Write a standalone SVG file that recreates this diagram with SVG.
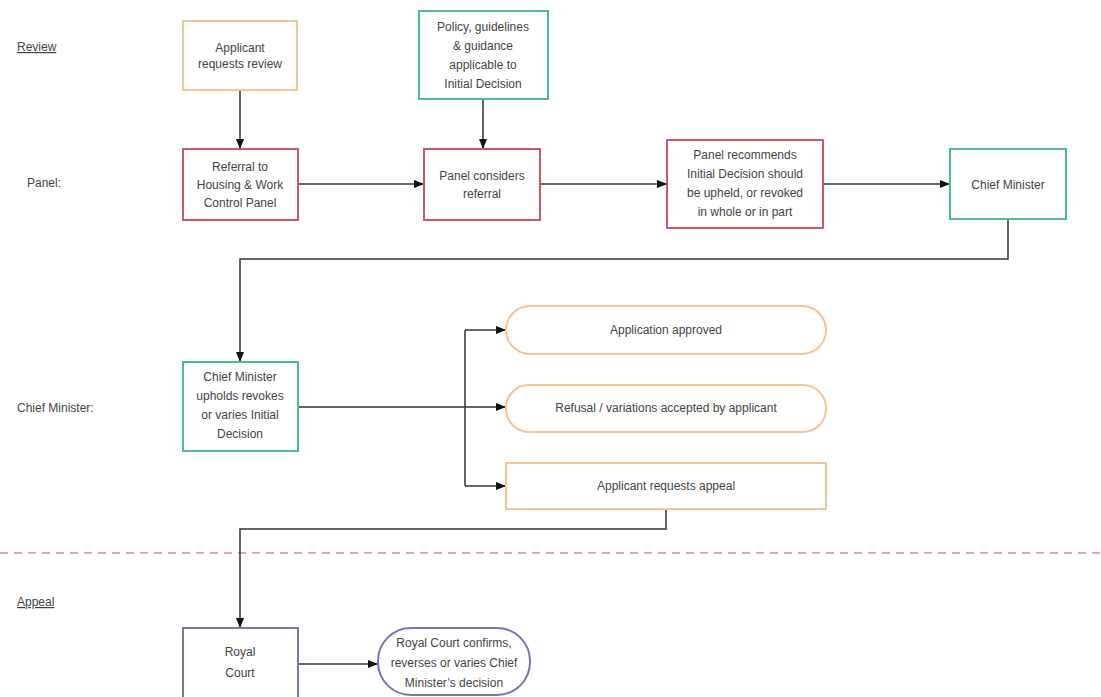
<svg xmlns="http://www.w3.org/2000/svg" width="1101" height="697" viewBox="0 0 1101 697">
<defs>
<marker id="ah" markerWidth="10" markerHeight="8" refX="9" refY="4" orient="auto" markerUnits="userSpaceOnUse">
<path d="M0,0 L10,4 L0,8 z" fill="#111"/>
</marker>
<style>
text{font-family:"Liberation Sans",Arial,sans-serif;font-size:12px;fill:#444;text-anchor:middle}
.lbl{text-anchor:start}
.u{text-decoration:underline}
.box{fill:#fff;stroke-width:2}
.or{stroke:#f5c29a}
.rd{stroke:#d0576a}
.gr{stroke:#4dbb93}
.pu{stroke:#8270b0}
.c{fill:none;stroke:#333;stroke-width:1.5}
</style>
</defs>
<rect width="1101" height="697" fill="#fff"/>
<g id="labels">
<text class="lbl u" x="17" y="51">Review</text>
<text class="lbl" x="27" y="187">Panel:</text>
<text class="lbl" x="17" y="412">Chief Minister:</text>
<text class="lbl u" x="17" y="606">Appeal</text>
</g>
<line id="divider" x1="0" y1="553" x2="1101" y2="553" stroke="#e08888" stroke-width="1.5" stroke-dasharray="8,6"/>
<g id="connectors">
<path class="c" d="M240,90 V148" marker-end="url(#ah)"/>
<path class="c" d="M483,99 V148" marker-end="url(#ah)"/>
<path class="c" d="M298,184 H423" marker-end="url(#ah)"/>
<path class="c" d="M540,184 H666" marker-end="url(#ah)"/>
<path class="c" d="M823,184 H949" marker-end="url(#ah)"/>
<path class="c" d="M1008,219 V259 H240 V361" marker-end="url(#ah)"/>
<path class="c" d="M298,407 H505" marker-end="url(#ah)"/>
<path class="c" d="M465,330 V486"/>
<path class="c" d="M465,330 H505" marker-end="url(#ah)"/>
<path class="c" d="M465,486 H505" marker-end="url(#ah)"/>
<path class="c" d="M666,509 V529 H240 V627" marker-end="url(#ah)"/>
<path class="c" d="M298,664 H377" marker-end="url(#ah)"/>
</g>
<g id="applicant-review">
<rect class="box or" x="183" y="21" width="114" height="69"/>
<text x="240" y="52">Applicant</text>
<text x="240" y="68">requests review</text>
</g>
<g id="policy">
<rect class="box gr" x="419" y="11" width="129" height="88"/>
<text x="483" y="31">Policy, guidelines</text>
<text x="483" y="50">&amp; guidance</text>
<text x="483" y="69">applicable to</text>
<text x="483" y="88">Initial Decision</text>
</g>
<g id="referral">
<rect class="box rd" x="183" y="149" width="115" height="71"/>
<text x="240" y="171">Referral to</text>
<text x="240" y="189">Housing &amp; Work</text>
<text x="240" y="207">Control Panel</text>
</g>
<g id="panel-considers">
<rect class="box rd" x="424" y="149" width="116" height="71"/>
<text x="482" y="180">Panel considers</text>
<text x="482" y="198">referral</text>
</g>
<g id="panel-recommends">
<rect class="box rd" x="667" y="140" width="156" height="88"/>
<text x="745" y="159">Panel recommends</text>
<text x="745" y="178">Initial Decision should</text>
<text x="745" y="197">be upheld, or revoked</text>
<text x="745" y="216">in whole or in part</text>
</g>
<g id="chief-minister">
<rect class="box gr" x="950" y="149" width="116" height="70"/>
<text x="1008" y="189">Chief Minister</text>
</g>
<g id="cm-upholds">
<rect class="box gr" x="183" y="362" width="115" height="89"/>
<text x="240" y="381">Chief Minister</text>
<text x="240" y="400">upholds revokes</text>
<text x="240" y="419">or varies Initial</text>
<text x="240" y="438">Decision</text>
</g>
<g id="approved">
<rect class="box or" x="506" y="306" width="320" height="48" rx="24"/>
<text x="666" y="334">Application approved</text>
</g>
<g id="refusal">
<rect class="box or" x="506" y="385" width="320" height="47" rx="23"/>
<text x="666" y="412">Refusal / variations accepted by applicant</text>
</g>
<g id="appeal">
<rect class="box or" x="506" y="463" width="320" height="46"/>
<text x="666" y="490">Applicant requests appeal</text>
</g>
<g id="royal-court">
<rect class="box pu" x="183" y="628" width="115" height="80"/>
<text x="240" y="656">Royal</text>
<text x="240" y="677">Court</text>
</g>
<g id="royal-decision">
<rect class="box pu" x="378" y="628" width="152" height="67" rx="33"/>
<text x="454" y="647">Royal Court confirms,</text>
<text x="454" y="667">reverses or varies Chief</text>
<text x="454" y="687">Minister’s decision</text>
</g>
</svg>
